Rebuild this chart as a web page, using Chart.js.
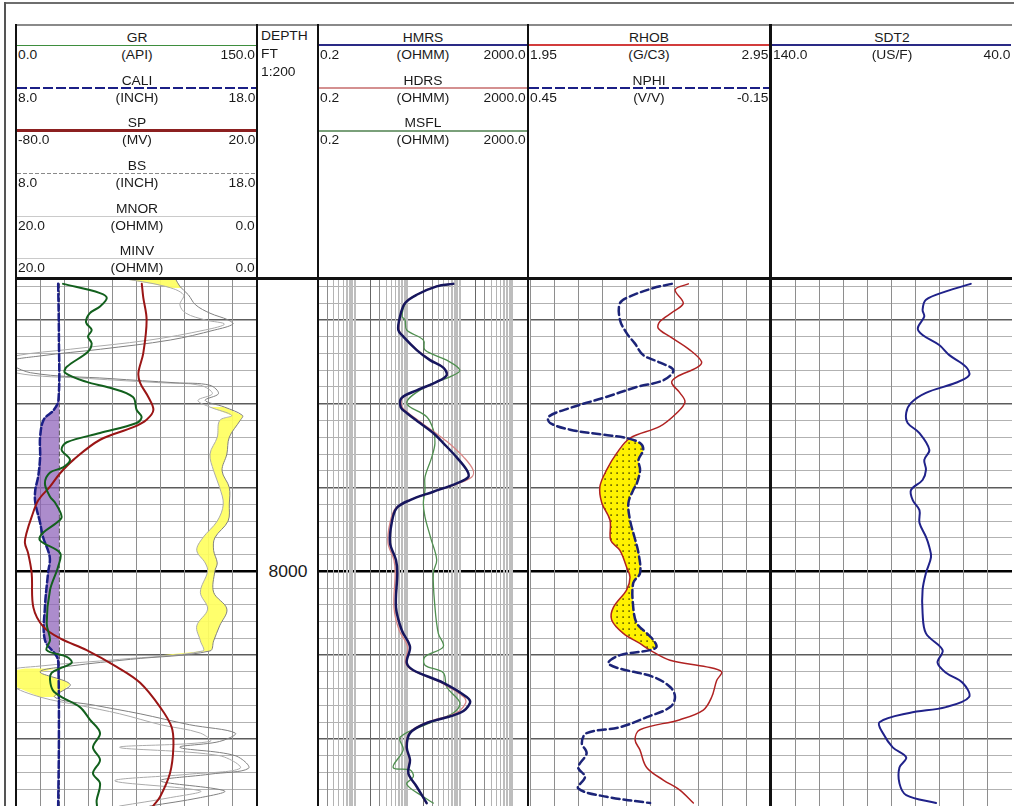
<!DOCTYPE html>
<html>
<head>
<meta charset="utf-8">
<title>Well log</title>
<script src="https://cdn.jsdelivr.net/npm/chart.js@4/dist/chart.umd.min.js"></script>
<style>
  html, body { margin: 0; padding: 0; background: #fff; }
  #page { position: relative; width: 1016px; height: 806px; overflow: hidden; background: #fff;
          font-family: "Liberation Sans", Arial, Helvetica, sans-serif; color: #1a1a1a; }
  #page canvas { position: absolute; }
  .lbl { position: absolute; white-space: nowrap; }
  .rule { position: absolute; }
</style>
</head>
<body>
<div id="page"></div>
<script>
// ---------- depth axis ----------
const depthRange = [7965, 8028];
const depthLabels = [8000];

// ---------- curve scales (value at left edge, value at right edge) ----------
const grRange   = [0, 150];
const caliRange = [8, 18];
const spRange   = [-80, 20];
const bsRange   = [8, 18];
const mnorRange = [20, 0];
const minvRange = [20, 0];
const resRange  = [0.2, 2000];
const rhobRange = [1.95, 2.95];
const nphiRange = [0.45, -0.15];
const dtRange   = [140, 40];

// ---------- track 1 : GR, SP, caliper, bit size, microlog ----------
const grDepth = [7965.7, 7966.8, 7967.4, 7968.4, 7969.2, 7970.3, 7971.2, 7972.0, 7972.8, 7973.8,
                 7975.6, 7976.3, 7977.4, 7978.1, 7979.2, 7980.75, 7981.6, 7982.3, 7983.5, 7984.6,
                 7985.5, 7986.7, 7987.6, 7988.2, 7989.5, 7991.1, 7991.8, 7993.5, 7994.2, 7995.4,
                 7996.3, 7997.8, 7999.5, 8002.2, 8006.2, 8008.2, 8009.4, 8010.2, 8010.9, 8011.5,
                 8012.1, 8013.0, 8014.2, 8015.0, 8016.2, 8017.7, 8019.3, 8021.0, 8022.5, 8024.1,
                 8025.3, 8027.3, 8028.0];
const grApi = [29.3, 52.3, 56.5, 52.3, 46.0, 43.6, 47.1, 44.8, 47.1, 44.8,
               31.6, 30.5, 44.0, 58.5, 72.8, 75.1, 78.2, 75.1, 52.3, 31.6,
               28.4, 33.6, 29.3, 21.2, 18.0, 21.2, 24.3, 28.4, 25.3, 16.8,
               14.9, 27.4, 26.1, 21.2, 19.1, 21.2, 19.1, 31.6, 34.7, 28.4,
               22.2, 21.2, 23.0, 28.4, 39.8, 46.0, 52.3, 47.9, 52.3, 47.9,
               52.3, 50.2, 50.4];

const spDepth = [7965.7, 7967.3, 7970.0, 7974.0, 7976.3, 7977.5, 7979.2, 7980.75, 7981.9, 7982.8,
                 7984.3, 7986.7, 7988.3, 7989.9, 7991.5, 7993.5, 7995.4, 7996.6, 7997.8, 8000.2,
                 8004.3, 8006.6, 8008.0, 8009.4, 8011.4, 8013.3, 8016.2, 8018.6, 8021.0, 8024.1,
                 8026.9, 8028.0];
const spMv = [-27.8, -27.2, -25.8, -27.2, -29.2, -28.5, -25.1, -23.0, -25.8, -31.3,
              -45.1, -56.2, -61.7, -65.9, -70.7, -73.5, -75.6, -76.3, -75.0, -73.5,
              -72.8, -68.7, -61.7, -50.7, -38.2, -28.5, -20.2, -15.4, -14.7, -16.1,
              -20.2, -23.1];

const caliDepth = [7965.7, 7972.0, 7979.6, 7980.8, 7981.9, 7984.0, 7986.4, 7988.7, 7990.3, 7991.8,
                   7994.2, 7995.9, 7998.3, 8000.2, 8004.3, 8008.2, 8010.2, 8011.4, 8020.0, 8028.0];
const caliIn = [9.75, 9.78, 9.76, 9.55, 9.15, 9.0, 9.0, 8.92, 8.8, 8.8,
                9.0, 9.12, 9.4, 9.33, 9.2, 9.2, 9.7, 9.76, 9.78, 9.75];

const bsDepth = [7965.7, 8028.0];
const bsIn = [9.8, 9.8];

const micDepth = [7965.0, 7966.0, 7967.0, 7968.2, 7969.2, 7970.0, 7970.5, 7971.2, 7972.4, 7973.5,
                  7974.3, 7975.0, 7976.3, 7977.0, 7977.5, 7977.8, 7978.8, 7979.6, 7980.4, 7981.4,
                  7982.0, 7984.0, 7986.0, 7988.0, 7990.0, 7992.0, 7994.0, 7996.0, 7997.5, 7999.0,
                  8000.0, 8002.5, 8004.5, 8006.5, 8008.3, 8009.5, 8010.5, 8011.3, 8012.0, 8013.5,
                  8015.0, 8016.0, 8017.0, 8018.3, 8019.3, 8020.3, 8021.0, 8022.0, 8023.5, 8024.2,
                  8025.0, 8026.2, 8027.0, 8028.0];
const mnorOhmm = [11.4, 7.6, 6.1, 6.4, 5.9, 4.3, 2.7, 4.3, 8.9, 15.5,
                  20.1, 20.9, 20.1, 13.9, 8.0, 4.7, 3.7, 4.9, 3.9, 2.1,
                  3.1, 3.3, 3.9, 3.6, 3.1, 2.8, 3.3, 4.5, 5.0, 4.3,
                  4.1, 4.7, 4.1, 5.0, 4.7, 4.5, 11.4, 18.0, 20.9, 20.5,
                  18.0, 14.7, 11.4, 8.0, 4.7, 3.9, 11.4, 3.1, 1.4, 5.6,
                  11.8, 4.7, 7.2, 11.4];
const minvOhmm = [6.8, 6.4, 5.7, 5.1, 3.9, 2.4, 2.0, 3.5, 7.2, 13.0,
                  18.0, 20.5, 18.8, 12.2, 6.8, 3.9, 3.2, 4.3, 2.7, 1.2,
                  1.4, 2.3, 2.5, 2.9, 2.3, 2.3, 2.4, 3.5, 3.6, 3.3,
                  3.5, 3.6, 2.5, 3.1, 3.6, 3.9, 10.5, 15.5, 18.0, 15.5,
                  16.8, 13.4, 9.7, 5.6, 1.8, 3.1, 6.4, 1.8, 0.7, 3.9,
                  8.0, 2.7, 4.7, 8.9];

// ---------- track 2 : resistivity ----------
const resDepth = [7965.7, 7966.0, 7967.0, 7968.0, 7969.6, 7971.2, 7972.0, 7973.6, 7974.8, 7975.7,
                  7976.6, 7977.4, 7978.4, 7979.3, 7980.4, 7981.1, 7982.3, 7983.5, 7984.7, 7986.4,
                  7987.9, 7988.75, 7989.5, 7990.5, 7991.5, 7992.45, 7994.2, 7996.6, 7998.65, 8000.2,
                  8004.3, 8007.0, 8009.0, 8010.9, 8011.8, 8013.3, 8015.0, 8015.7, 8016.9, 8018.1,
                  8019.3, 8021.0, 8022.5, 8024.1, 8025.7, 8027.65];
const hmrsOhmm = [75.5, 36.5, 15.2, 9.08, 7.3, 6.78, 8.43, 15.2, 27.2, 48.7,
                  56.5, 36.5, 15.2, 7.85, 7.52, 9.79, 17.5, 31.4, 48.7, 87.7,
                  135.9, 145.9, 87.7, 31.4, 11.3, 6.31, 5.07, 4.70, 6.12, 6.48,
                  6.12, 7.85, 11.3, 9.79, 13.1, 48.7, 135.9, 157, 101, 23.5,
                  11.3, 9.79, 11.3, 10.5, 15.2, 23.5];
const hdrsOhmm = [70, 35, 15, 9.0, 7.4, 7.0, 8.6, 15.5, 28, 50,
                  58, 37, 15.5, 8.2, 8.0, 10.5, 19, 35, 62, 120,
                  180, 170, 95, 32, 11, 6.0, 4.7, 4.3, 5.6, 5.9,
                  5.6, 7.0, 10.2, 9.3, 12.5, 45, 120, 130, 85, 22,
                  10.8, 9.5, 11, 10.3, 15, 23];
const msflDepth = [7965.7, 7966.0, 7967.0, 7968.0, 7969.6, 7970.0, 7971.2, 7972.4, 7973.6, 7974.8,
                   7976.0, 7976.8, 7977.9, 7979.9, 7981.55, 7983.1, 7984.7, 7986.4, 7988.75, 7990.3,
                   7991.85, 7993.5, 7996.0, 7998.65, 8000.2, 8004.3, 8007.4, 8009.0, 8010.2, 8011.2,
                   8012.1, 8013.8, 8015.7, 8016.9, 8018.1, 8019.8, 8021.3, 8023.4, 8023.7, 8024.5,
                   8025.4, 8026.9, 8027.65];
const msflOhmm = [75, 36, 15, 9.3, 8.0, 9.1, 9.8, 20.3, 21.8, 56.5,
                  101, 65.3, 23.5, 9.8, 23.5, 31.4, 33.8, 29.3, 21.8, 21.8,
                  20.3, 21.8, 28.0, 36.5, 31.4, 33.8, 39.1, 48.7, 21.8, 21.8,
                  48.7, 56.5, 101, 75.5, 27.2, 7.3, 8.4, 5.4, 11.3, 13.1,
                  9.8, 20.3, 31.4];

// ---------- track 3 : density / neutron ----------
const rhobDepth = [7965.7, 7966.4, 7968.0, 7969.0, 7970.2, 7971.0, 7972.0, 7973.6, 7975.0, 7975.7,
                   7976.8, 7977.5, 7978.7, 7979.8, 7981.1, 7982.7, 7984.1, 7985.9, 7987.9, 7989.9,
                   7991.85, 7993.9, 7996.3, 7997.5, 7999.5, 8000.7, 8002.2, 8004.3, 8005.8, 8007.4,
                   8008.6, 8009.4, 8010.6, 8011.4, 8012.0, 8013.0, 8015.0, 8016.55, 8017.7, 8018.9,
                   8020.1, 8021.3, 8023.4, 8024.9, 8026.1, 8027.65];
const rhobGcc = [2.607, 2.552, 2.586, 2.545, 2.489, 2.482, 2.531, 2.614, 2.662, 2.642,
                 2.559, 2.538, 2.572, 2.593, 2.559, 2.489, 2.365, 2.310, 2.268, 2.240,
                 2.248, 2.282, 2.285, 2.323, 2.351, 2.365, 2.351, 2.296, 2.289, 2.337,
                 2.406, 2.448, 2.531, 2.683, 2.745, 2.725, 2.704, 2.669, 2.572, 2.406,
                 2.386, 2.406, 2.434, 2.503, 2.572, 2.628];
const nphiDepth = [7965.7, 7966.2, 7967.2, 7968.0, 7970.0, 7971.6, 7972.8, 7974.2, 7975.1, 7976.0,
                   7977.2, 7978.0, 7979.3, 7980.5, 7981.55, 7982.3, 7983.1, 7983.7, 7984.1, 7984.7,
                   7985.5, 7986.7, 7987.9, 7989.5, 7990.3, 7991.85, 7993.9, 7995.9, 7997.8, 8000.2,
                   8001.4, 8004.3, 8006.2, 8007.4, 8008.2, 8009.0, 8009.4, 8010.0, 8010.9, 8011.5,
                   8012.6, 8013.8, 8015.0, 8016.2, 8017.4, 8018.6, 8019.3, 8020.5, 8021.7, 8023.4,
                   8024.5, 8025.9, 8026.9, 8027.65];
const nphiVv = [0.097, 0.143, 0.201, 0.226, 0.226, 0.209, 0.189, 0.168, 0.126, 0.093,
                0.118, 0.184, 0.267, 0.350, 0.404, 0.400, 0.350, 0.267, 0.209, 0.176,
                0.168, 0.180, 0.176, 0.184, 0.193, 0.205, 0.201, 0.190, 0.180, 0.176,
                0.193, 0.193, 0.184, 0.159, 0.143, 0.135, 0.151, 0.226, 0.255, 0.234,
                0.143, 0.101, 0.089, 0.101, 0.159, 0.226, 0.309, 0.321, 0.309, 0.330,
                0.313, 0.330, 0.259, 0.151];

// ---------- track 4 : sonic ----------
const dtDepth = [7965.7, 7966.6, 7967.6, 7968.8, 7969.6, 7971.0, 7971.8, 7973.0, 7974.2, 7975.6,
                 7976.6, 7977.5, 7978.7, 7979.9, 7981.1, 7982.3, 7983.5, 7985.5, 7986.7, 7987.9,
                 7989.1, 7990.3, 7991.5, 7992.7, 7994.2, 7995.9, 7997.1, 7998.3, 8000.2, 8002.2,
                 8005.0, 8007.4, 8009.4, 8010.9, 8012.1, 8013.3, 8015.0, 8016.2, 8016.9, 8018.0,
                 8019.3, 8021.0, 8022.2, 8023.4, 8025.3, 8026.7, 8027.65];
const dtUsf = [57.1, 67.4, 75.7, 77.1, 76.4, 79.1, 77.1, 70.2, 66.0, 59.1,
               57.8, 63.3, 75.7, 81.9, 83.9, 83.3, 78.4, 74.3, 76.4, 75.7,
               77.1, 81.9, 81.2, 78.4, 78.4, 75.7, 74.3, 73.6, 75.7, 77.1,
               77.1, 75.7, 68.8, 70.9, 67.4, 60.5, 57.8, 67.4, 82.6, 95.0,
               93.6, 89.5, 83.9, 86.7, 86.7, 83.9, 71.5];

// ---------- shaded zones ----------
const mudcakeZone = [7979.6, 8011.4];
const microSeparation = [[7965.0, 7966.2], [7980.4, 8010.0], [8011.6, 8015.0]];
const crossoverZone = [7984.1, 8009.4];

// ======================================================================
const page = document.getElementById('page');
const LOG_TOP = 278, LOG_H = 528;

function curve(depths, values) { return depths.map((d, i) => ({ x: values[i], y: d })); }

function el(cls, css) {
  const d = document.createElement('div');
  d.className = cls;
  Object.assign(d.style, css);
  page.appendChild(d);
  return d;
}

function label(text, x, cy, align, size, sx) {
  size = size || 12; sx = sx || 1.15;
  const d = el('lbl', { fontSize: size + 'px', lineHeight: size + 'px', top: (cy - size / 2) + 'px' });
  d.textContent = text;
  if (align === 'left') {
    d.style.left = x + 'px'; d.style.transformOrigin = 'left center'; d.style.transform = 'scaleX(' + sx + ')';
  } else if (align === 'right') {
    d.style.right = (1016 - x) + 'px'; d.style.transformOrigin = 'right center'; d.style.transform = 'scaleX(' + sx + ')';
  } else {
    d.style.left = x + 'px'; d.style.transform = 'translateX(-50%) scaleX(' + sx + ')';
  }
  return d;
}

function rule(x0, x1, y, style) {
  const bg = style.dash
    ? 'repeating-linear-gradient(90deg,' + style.color + ' 0 ' + style.dash[0] + 'px, transparent ' + style.dash[0] + 'px ' + (style.dash[0] + style.dash[1]) + 'px)'
    : style.color;
  el('rule', { left: x0 + 'px', width: (x1 - x0) + 'px', top: (y - style.width / 2) + 'px', height: style.width + 'px', background: bg });
}

function box(x, y, w, h, color) {
  el('rule', { left: x + 'px', top: y + 'px', width: w + 'px', height: h + 'px', background: color });
}

function headerRow(x0, x1, lineY, name, unit, range, dp, style) {
  label(name, (x0 + x1) / 2, lineY - 7.5, 'center');
  rule(x0, x1, lineY, style);
  label(range[0].toFixed(dp), x0 + 1, lineY + 9.5, 'left');
  label(unit, (x0 + x1) / 2, lineY + 9.5, 'center');
  label(range[1].toFixed(dp), x1 - 1, lineY + 9.5, 'right');
}

// ---------- scales ----------
function depthScale() {
  return {
    type: 'linear', position: 'left', reverse: true,
    min: depthRange[0], max: depthRange[1],
    ticks: { display: false }, border: { display: false },
    grid: {
      drawTicks: false,
      color: c => c.tick.value % 50 === 0 ? '#000' : (c.tick.value % 10 === 0 ? '#5c5c5c' : '#b2b2b2'),
      lineWidth: c => c.tick.value % 50 === 0 ? 2.5 : (c.tick.value % 10 === 0 ? 1.6 : 1)
    },
    afterBuildTicks: s => {
      const t = [];
      for (let d = Math.ceil(depthRange[0] / 2) * 2; d <= depthRange[1]; d += 2) t.push({ value: d });
      s.ticks = t;
    }
  };
}

function rangeScale(range, type, extra) {
  return Object.assign({
    type: type || 'linear',
    min: Math.min(range[0], range[1]),
    max: Math.max(range[0], range[1]),
    reverse: range[0] > range[1],
    display: false
  }, extra || {});
}

function gridScale(range, type, ticks, colorFn, widthFn) {
  return rangeScale(range, type, {
    display: true, position: 'bottom',
    ticks: { display: false }, border: { display: false },
    grid: { drawTicks: false, color: c => colorFn(c.tick.value), lineWidth: c => (widthFn ? widthFn(c.tick.value) : 1) },
    afterBuildTicks: s => { s.ticks = ticks.map(v => ({ value: v })); }
  });
}

const tenDivisions = r => Array.from({ length: 11 }, (_, i) => r[0] + (r[1] - r[0]) * i / 10);
const resGridTicks = [];
[0.1, 1, 10, 100, 1000].forEach(dec => {
  for (let m = 1; m <= 9; m++) {
    const v = +(m * dec).toPrecision(3);
    if (v >= resRange[0] && v <= resRange[1]) resGridTicks.push(v);
  }
});
const mantissa = v => Math.round(v / Math.pow(10, Math.floor(Math.log10(v) + 1e-9)));
function logGridColor(v) {
  const m = mantissa(v);
  if (m === 2) return '#666';
  if (m === 3) return '#8c8c8c';
  if (m >= 7 || m === 1) return '#bdbdbd';
  return '#b4b4b4';
}
function logGridWidth(v) {
  const m = mantissa(v);
  return (m >= 7 || m === 1) ? 2 : 1;
}

// ---------- fills between two curves ----------
function edgePoint(meta, raw, depth) {
  const pts = meta.data;
  for (let i = 1; i < pts.length; i++) {
    const y0 = raw[i - 1].y, y1 = raw[i].y;
    if (depth >= y0 && depth <= y1) {
      const t = (depth - y0) / ((y1 - y0) || 1);
      return { x: pts[i - 1].x + t * (pts[i].x - pts[i - 1].x), y: pts[i - 1].y + t * (pts[i].y - pts[i - 1].y) };
    }
  }
  const k = depth < raw[0].y ? 0 : pts.length - 1;
  return { x: pts[k].x, y: pts[k].y };
}

function traceCurve(ctx, meta, raw, from, to, backwards) {
  const pts = meta.data;
  const idx = [];
  for (let i = 0; i < pts.length; i++) if (raw[i].y > from && raw[i].y < to) idx.push(i);
  if (backwards) idx.reverse();
  const start = edgePoint(meta, raw, backwards ? to : from);
  const end = edgePoint(meta, raw, backwards ? from : to);
  ctx.lineTo(start.x, start.y);
  let prev = null;
  for (const i of idx) {
    const p = pts[i];
    if (!prev || p.cp1x === undefined) ctx.lineTo(p.x, p.y);
    else if (!backwards) ctx.bezierCurveTo(prev.cp2x, prev.cp2y, p.cp1x, p.cp1y, p.x, p.y);
    else ctx.bezierCurveTo(prev.cp1x, prev.cp1y, p.cp2x, p.cp2y, p.x, p.y);
    prev = p;
  }
  ctx.lineTo(end.x, end.y);
}

function bandFill(bands) {
  return {
    id: 'bandFill',
    beforeDatasetsDraw(chart) {
      const { ctx, chartArea: area } = chart;
      ctx.save();
      ctx.beginPath();
      ctx.rect(area.left, area.top, area.right - area.left, area.bottom - area.top);
      ctx.clip();
      bands.forEach(b => {
        const ma = chart.getDatasetMeta(b.a), mb = chart.getDatasetMeta(b.b);
        ma.dataset.updateControlPoints(area, 'y');
        mb.dataset.updateControlPoints(area, 'y');
        ctx.beginPath();
        traceCurve(ctx, ma, chart.data.datasets[b.a].data, b.from, b.to, false);
        traceCurve(ctx, mb, chart.data.datasets[b.b].data, b.from, b.to, true);
        ctx.closePath();
        ctx.fillStyle = typeof b.fill === 'function' ? b.fill(ctx) : b.fill;
        ctx.fill();
      });
      ctx.restore();
    }
  };
}

function dottedYellow(ctx) {
  const tile = document.createElement('canvas');
  tile.width = 6; tile.height = 6;
  const g = tile.getContext('2d');
  g.fillStyle = '#fff200'; g.fillRect(0, 0, 6, 6);
  g.fillStyle = '#2e2a00'; g.fillRect(2.4, 2.4, 1.4, 1.4);
  return ctx.createPattern(tile, 'repeat');
}

// ---------- charts ----------
function ds(depths, values, axis, color, width, dash) {
  return {
    data: curve(depths, values), xAxisID: axis, yAxisID: 'y',
    borderColor: color, borderWidth: width, borderDash: dash || [],
    pointRadius: 0, fill: false, tension: 0.35, borderCapStyle: 'round', borderJoinStyle: 'round'
  };
}

function track(left, width, xScales, datasets, bands) {
  const c = document.createElement('canvas');
  c.width = width; c.height = LOG_H;
  c.style.left = left + 'px'; c.style.top = LOG_TOP + 'px';
  page.appendChild(c);
  return new Chart(c, {
    type: 'line',
    data: { datasets },
    options: {
      indexAxis: 'y', responsive: false, animation: false, events: [], devicePixelRatio: 1,
      layout: { padding: 0, autoPadding: false },
      plugins: { legend: { display: false }, tooltip: { enabled: false }, title: { display: false } },
      scales: Object.assign({ y: depthScale() }, xScales)
    },
    plugins: bands ? [bandFill(bands)] : []
  });
}

const vGrid = () => '#8e8e8e';

const track1 = track(16, 241, {
  xGR: gridScale(grRange, 'linear', tenDivisions(grRange), vGrid),
  xSP: rangeScale(spRange),
  xCALI: rangeScale(caliRange),
  xBS: rangeScale(bsRange),
  xMNOR: rangeScale(mnorRange),
  xMINV: rangeScale(minvRange)
}, [
  ds(grDepth, grApi, 'xGR', '#12601d', 2),
  ds(spDepth, spMv, 'xSP', '#9a1515', 2),
  ds(caliDepth, caliIn, 'xCALI', '#1b1f86', 2.5, [7, 3]),
  ds(bsDepth, bsIn, 'xBS', '#555', 1, [4, 3]),
  ds(micDepth, minvOhmm, 'xMINV', '#808080', 1),
  ds(micDepth, mnorOhmm, 'xMNOR', '#ababab', 1)
], [
  { a: 2, b: 3, from: mudcakeZone[0], to: mudcakeZone[1], fill: 'rgba(140,95,185,0.72)' }
].concat(microSeparation.map(z => ({ a: 5, b: 4, from: z[0], to: z[1], fill: 'rgba(255,255,95,0.92)' }))));

const track2 = track(318, 210, {
  xRes: gridScale(resRange, 'logarithmic', resGridTicks, logGridColor, logGridWidth)
}, [
  ds(resDepth, hmrsOhmm, 'xRes', '#16165e', 2.5),
  ds(resDepth, hdrsOhmm, 'xRes', '#d98686', 1.3),
  ds(msflDepth, msflOhmm, 'xRes', '#4f8f4f', 1.3)
]);

const track3 = track(530, 241, {
  xRHOB: gridScale(rhobRange, 'linear', tenDivisions(rhobRange), vGrid),
  xNPHI: rangeScale(nphiRange)
}, [
  ds(nphiDepth, nphiVv, 'xNPHI', '#1c2478', 2.5, [8, 4]),
  ds(rhobDepth, rhobGcc, 'xRHOB', '#b02222', 1.5)
], [
  { a: 1, b: 0, from: crossoverZone[0], to: crossoverZone[1], fill: dottedYellow }
]);

const track4 = track(771, 241, {
  xDT: gridScale(dtRange, 'linear', tenDivisions(dtRange), vGrid)
}, [
  ds(dtDepth, dtUsf, 'xDT', '#20228a', 2)
]);

// ---------- frame and track borders ----------
box(5, 2, 1009, 1.5, '#6e6e6e');       // outer top
box(4, 2, 1.5, 804, '#555');           // outer left
box(15, 24, 997, 2, '#8a8a8a');        // header top
box(15, 24, 2, 782, '#111');           // track 1 left
box(256, 24, 2, 782, '#111');          // track 1 right
box(317, 24, 2, 782, '#111');          // depth track right
box(527, 24, 2, 782, '#111');          // track 2 right
box(769, 24, 3, 782, '#111');          // track 3 right
box(15, 277, 997, 3, '#111');          // header bottom

// ---------- headers ----------
const solid = (color, width) => ({ color, width });
const dashed = (color, width, dash) => ({ color, width, dash });

headerRow(17, 256, 45.5, 'GR', '(API)', grRange, 1, solid('#3e8e3e', 1.5));
headerRow(17, 256, 88, 'CALI', '(INCH)', caliRange, 1, dashed('#1b1f86', 2.5, [10, 3]));
headerRow(17, 256, 130.5, 'SP', '(MV)', spRange, 1, solid('#8c2020', 3));
headerRow(17, 256, 173, 'BS', '(INCH)', bsRange, 1, dashed('#8a8a8a', 1, [4, 2]));
headerRow(17, 256, 216, 'MNOR', '(OHMM)', mnorRange, 1, solid('#cacaca', 1));
headerRow(17, 256, 258, 'MINV', '(OHMM)', minvRange, 1, solid('#cacaca', 1));

label('DEPTH', 261, 36, 'left');
label('FT', 261, 54, 'left');
label('1:200', 261, 72, 'left');

headerRow(319, 527, 45, 'HMRS', '(OHMM)', resRange, 1, solid('#2a2a86', 1.5));
headerRow(319, 527, 88, 'HDRS', '(OHMM)', resRange, 1, solid('#d49090', 1.5));
headerRow(319, 527, 130.5, 'MSFL', '(OHMM)', resRange, 1, solid('#7aa07a', 2));

headerRow(529, 769, 45, 'RHOB', '(G/C3)', rhobRange, 2, solid('#d23c3c', 2));
headerRow(529, 769, 88, 'NPHI', '(V/V)', nphiRange, 2, dashed('#1b1f86', 2.5, [10, 3]));

headerRow(772, 1011, 45, 'SDT2', '(US/F)', dtRange, 1, solid('#2a2a86', 1.5));

// ---------- depth labels ----------
depthLabels.forEach(d => {
  const y = LOG_TOP + track1.scales.y.getPixelForValue(d);
  label(String(d), 288, y, 'center', 16.5, 1.06);
});
</script>
</body>
</html>
